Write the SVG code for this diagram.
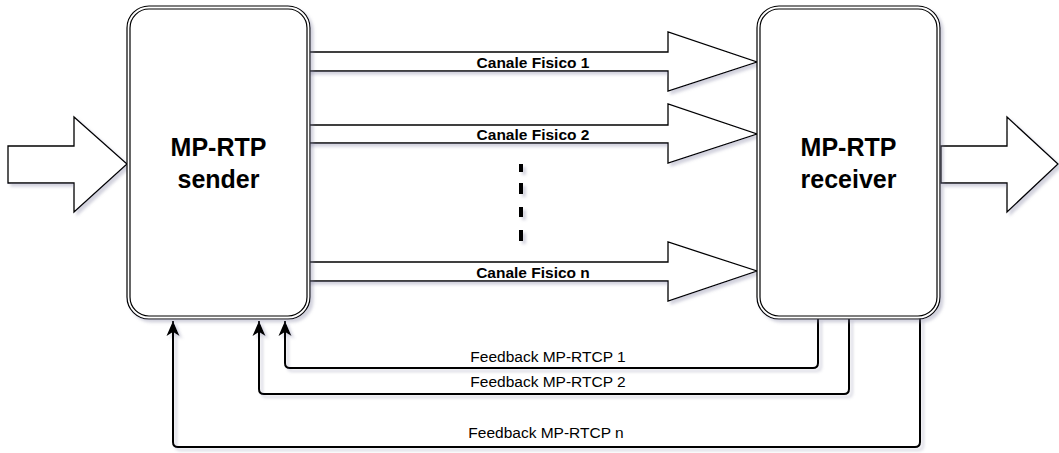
<svg xmlns="http://www.w3.org/2000/svg" width="1059" height="453" viewBox="0 0 1059 453">
<style>
.box{fill:#fff;stroke:#000;stroke-width:1.2}
.inner{fill:none;stroke:#000;stroke-width:1.2}
.arr{fill:#fff;stroke:#000;stroke-width:1.3;stroke-linejoin:miter}
.big{font-family:"Liberation Sans",Arial,sans-serif;font-weight:bold;font-size:25px;text-anchor:middle;fill:#000}
.ch{font-family:"Liberation Sans",Arial,sans-serif;font-weight:bold;font-size:15.5px;text-anchor:middle;fill:#000}
.fb{font-family:"Liberation Sans",Arial,sans-serif;font-size:15.5px;text-anchor:middle;fill:#000}
.fbl{fill:none;stroke:#000;stroke-width:2}
</style>
<defs>
<filter id="sh" x="-10%" y="-10%" width="130%" height="130%">
<feDropShadow dx="3" dy="3" stdDeviation="1.5" flood-color="#8080a0" flood-opacity="0.35"/>
</filter>
<marker id="ah" markerUnits="userSpaceOnUse" markerWidth="16" markerHeight="16" viewBox="0 0 16 16" refX="15" refY="8" orient="auto">
<path d="M0,1.5 L15,8 L0,14.5 L4,8 z" fill="#000"/>
</marker>
</defs>
<rect width="1059" height="453" fill="#fff"/>

<g id="connectors" filter="url(#sh)">
<polygon id="input-arrow" class="arr" points="8,146 74,146 74,117 127,164 74,212 74,183 8,183"/>
<polygon id="output-arrow" class="arr" points="941,146 1007,146 1007,117 1058,164 1007,212 1007,183 941,183"/>
<polygon id="ch1" class="arr" points="305,52 668,52 668,32 757,62 668,91 668,71 305,71"/>
<polygon id="ch2" class="arr" points="305,125 668,125 668,104 757,134 668,163 668,143 305,143"/>
<polygon id="chn" class="arr" points="305,262 668,262 668,242 757,271 668,301 668,281 305,281"/>
<path id="dots" d="M521 164V172M521 183V194M521 207V217M521 230V241" stroke="#000" stroke-width="4" fill="none"/>
<path id="fb1" class="fbl" d="M818 318V363Q818 368 813 368H290Q285 368 285 363V321" marker-end="url(#ah)"/>
<path id="fb2" class="fbl" d="M849 318V389Q849 394 844 394H264Q259 394 259 389V321" marker-end="url(#ah)"/>
<path id="fbn" class="fbl" d="M920 318V442Q920 447 915 447H178Q173 447 173 442V321" marker-end="url(#ah)"/>
</g>

<g id="labels">
<text class="ch" x="533" y="68">Canale Fisico 1</text>
<text class="ch" x="533" y="140">Canale Fisico 2</text>
<text class="ch" x="533" y="278">Canale Fisico n</text>
<text class="fb" x="548" y="362">Feedback MP-RTCP 1</text>
<text class="fb" x="548" y="387">Feedback MP-RTCP 2</text>
<text class="fb" x="546" y="438">Feedback MP-RTCP n</text>
</g>

<g id="sender">
<rect class="box" x="127" y="6" width="183" height="313" rx="22" ry="22" filter="url(#sh)"/>
<rect class="inner" x="130" y="9" width="177" height="307" rx="19" ry="19"/>
<text class="big" x="218.5" y="156">MP-RTP</text>
<text class="big" x="218.5" y="188">sender</text>
</g>

<g id="receiver">
<rect class="box" x="757" y="6" width="183" height="313" rx="22" ry="22" filter="url(#sh)"/>
<rect class="inner" x="760" y="9" width="177" height="307" rx="19" ry="19"/>
<text class="big" x="848.5" y="156">MP-RTP</text>
<text class="big" x="848.5" y="188">receiver</text>
</g>
</svg>
